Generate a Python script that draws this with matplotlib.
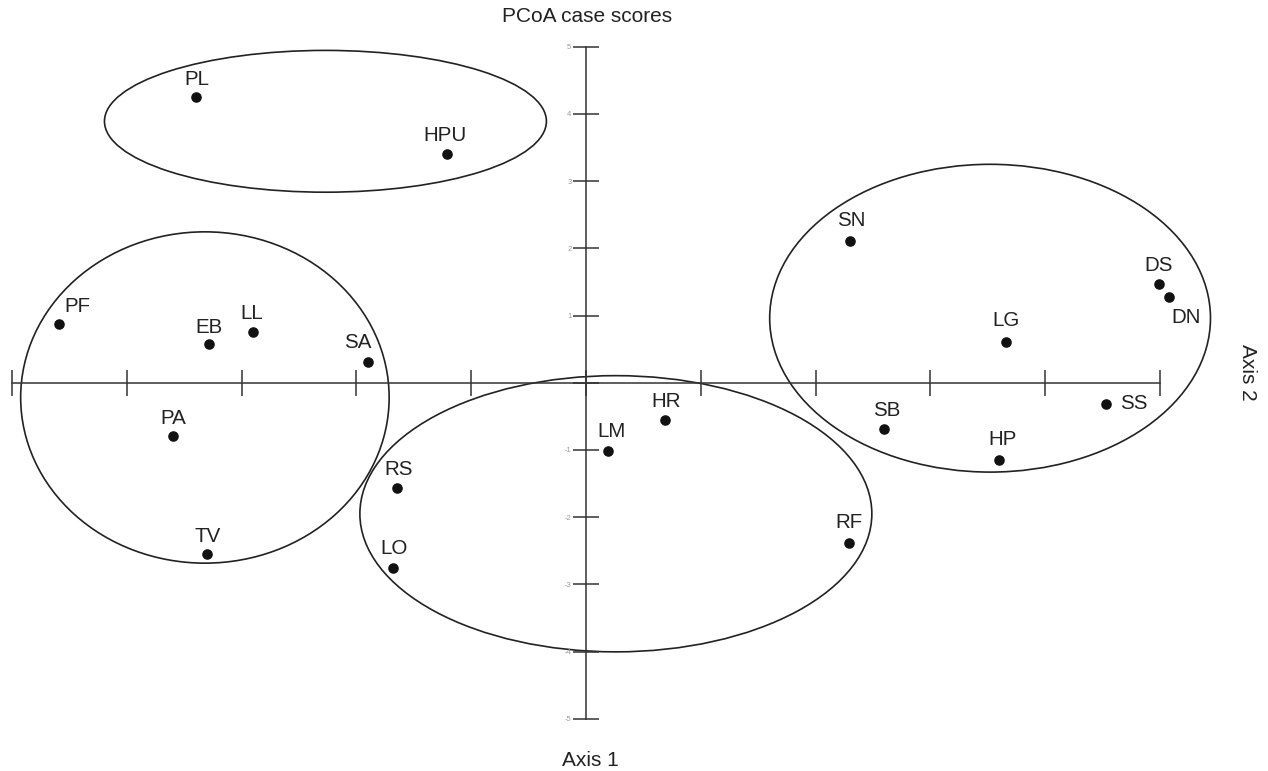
import numpy as np
import matplotlib.pyplot as plt
from matplotlib.patches import Ellipse

# =============================================================================
# Data (PCoA case scores)
# =============================================================================

SITES = ['PL', 'HPU', 'SN', 'DS', 'DN', 'LG', 'PF', 'EB', 'LL', 'SA',
         'PA', 'TV', 'SS', 'SB', 'HP', 'HR', 'LM', 'RS', 'LO', 'RF']

AXIS1 = [-3.40, -1.21, 2.30, 4.99, 5.08, 3.66, -4.59, -3.28, -2.90, -1.90,
         -3.60, -3.30, 4.53, 2.60, 3.60, 0.69, 0.19, -1.65, -1.68, 2.29]

AXIS2 = [4.25, 3.41, 2.11, 1.47, 1.28, 0.61, 0.88, 0.57, 0.76, 0.31,
         -0.80, -2.55, -0.31, -0.69, -1.15, -0.56, -1.02, -1.57, -2.75, -2.39]

# group ellipses: centre x, centre y, width, height
ELL_X = [-2.27, -3.32, 0.26, 3.52]
ELL_Y = [3.89, -0.22, -1.95, 0.96]
ELL_W = [3.85, 3.21, 4.46, 3.84]
ELL_H = [2.11, 4.93, 4.11, 4.58]

Y_TICKS = [-5, -4, -3, -2, -1, 0, 1, 2, 3, 4, 5]
X_TICKS = [-5, -4, -3, -2, -1, 0, 1, 2, 3, 4, 5]

# label offsets in pixels (dx, dy; dy positive = up)
LABEL_OFF = {
    'PL': (1, 18), 'HPU': (-2, 18), 'SN': (1, 20), 'DS': (0, 18),
    'DN': (17, -21), 'LG': (0, 21), 'PF': (18, 17), 'EB': (0, 17),
    'LL': (-1, 18), 'SA': (-10, 19), 'PA': (0, 18), 'TV': (0, 18),
    'SS': (28, 0), 'SB': (2, 19), 'HP': (3, 20), 'HR': (1, 19),
    'LM': (4, 20), 'RS': (2, 19), 'LO': (1, 19), 'RF': (0, 21),
}

LINE_COL = '#333333'
TEXT_COL = '#222222'
FONT = 'Liberation Sans'


def main():
    plt.rcParams['font.family'] = FONT
    fig = plt.figure(figsize=(12.68, 7.71), dpi=100)
    ax = fig.add_axes([0, 0, 1, 1])
    ax.set_xlim(-5.105, 5.941)
    ax.set_ylim(-5.778, 5.695)

    # axes crossing at the origin
    for side in ['top', 'right']:
        ax.spines[side].set_visible(False)
    for side in ['left', 'bottom']:
        ax.spines[side].set_position(('data', 0))
        ax.spines[side].set_bounds(-5, 5)
        ax.spines[side].set_color(LINE_COL)
        ax.spines[side].set_linewidth(1.1)

    ax.set_xticks(X_TICKS)
    ax.set_xticklabels([])
    ax.set_yticks(Y_TICKS)
    ax.set_yticklabels(['' if t == 0 else str(t) for t in Y_TICKS])
    ax.tick_params(axis='both', direction='inout', length=19, width=1.1,
                   color=LINE_COL)
    ax.tick_params(axis='y', labelsize=5.5, labelcolor='#999999', pad=1)

    # group ellipses
    for cx, cy, w, h in zip(ELL_X, ELL_Y, ELL_W, ELL_H):
        ax.add_patch(Ellipse((cx, cy), w, h, fill=False,
                             edgecolor='#222222', linewidth=1.2))

    # points and labels
    ax.plot(AXIS1, AXIS2, 'o', color='#111111', markersize=6.6, zorder=5)
    for name, x, y in zip(SITES, AXIS1, AXIS2):
        dx, dy = LABEL_OFF[name]
        ax.annotate(name, (x, y), xytext=(dx, dy), textcoords='offset pixels',
                    ha='center', va='center', fontsize=14.8, color=TEXT_COL)

    fig.text(587 / 1268, 1 - 17 / 771, 'PCoA case scores', ha='center',
             va='center', fontsize=15, color=TEXT_COL)
    fig.text(590 / 1268, 1 - 760 / 771, 'Axis 1', ha='center', va='center',
             fontsize=15, color=TEXT_COL)
    fig.text(1247 / 1268, 1 - 372 / 771, 'Axis 2', ha='center', va='center',
             rotation=270, fontsize=15, color=TEXT_COL)

    fig.savefig('out.png', dpi=100)
    plt.close(fig)


if __name__ == '__main__':
    main()
